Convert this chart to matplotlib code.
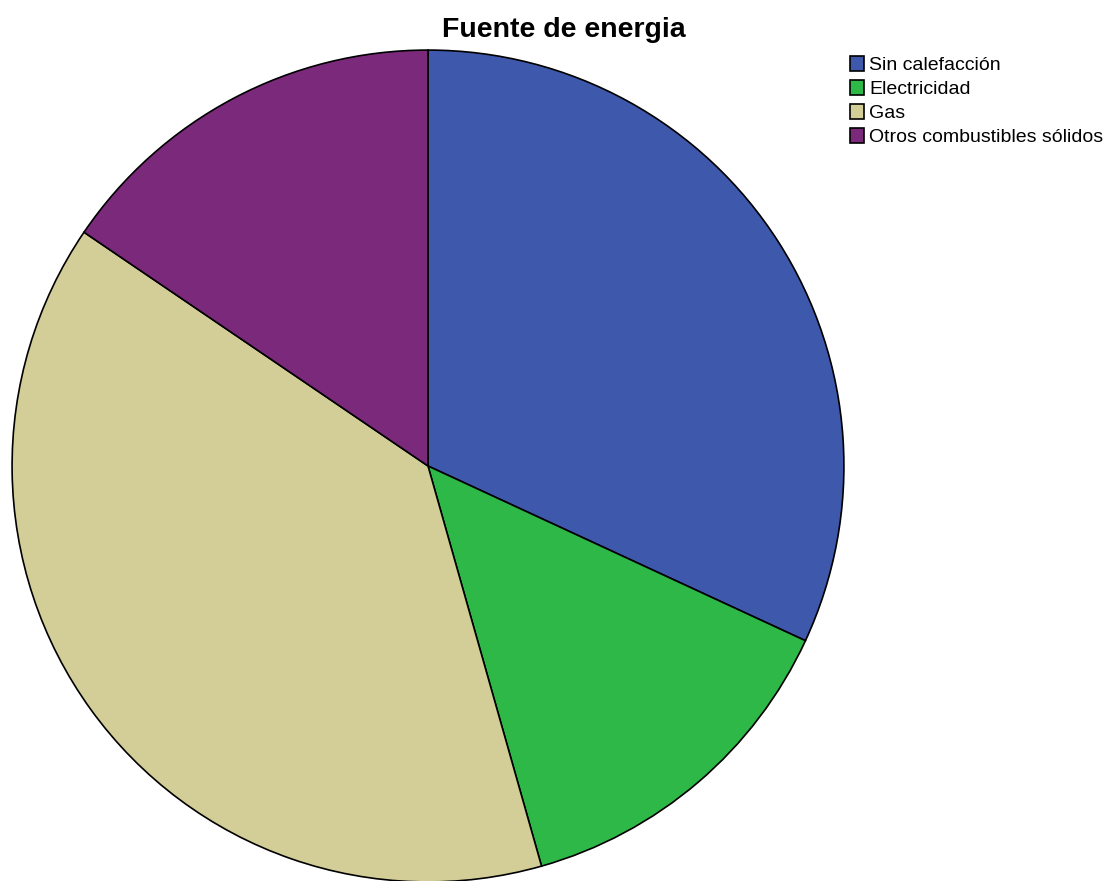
import matplotlib

matplotlib.use("Agg")
import matplotlib.pyplot as plt
from matplotlib.patches import Patch

plt.rcParams["font.family"] = ["Liberation Sans", "DejaVu Sans"]

categorias = ["Sin calefacción", "Electricidad", "Gas", "Otros combustibles sólidos"]
porcentajes = [31.9, 13.7, 38.9, 15.5]
colores = ["#3e58ac", "#2eb848", "#d3ce97", "#7b2a7b"]

W, H = 1112, 881
fig = plt.figure(figsize=(W / 100, H / 100), dpi=100)

# pie centred at (428, 466) px with radius 418 px
cx, cy, r = 428, 466, 418
ax = fig.add_axes([(cx - r) / W, (H - cy - r) / H, 2 * r / W, 2 * r / H])
ax.pie(
    porcentajes,
    colors=colores,
    startangle=90,
    counterclock=False,
    radius=1,
    wedgeprops=dict(edgecolor="black", linewidth=1.2),
)
ax.set_xlim(-1.005, 1.005)
ax.set_ylim(-1.005, 1.005)
ax.set_aspect("equal")
ax.axis("off")

fig.text(564 / W, 1 - 30 / H, "Fuente de energia", ha="center", va="center",
         fontsize=20.5, fontweight="bold")

handles = [Patch(facecolor=c, edgecolor="black", linewidth=1.2) for c in colores]
fig.legend(
    handles,
    categorias,
    loc="upper left",
    bbox_to_anchor=(850 / W, 1 - 56 / H),
    frameon=False,
    fontsize=14,
    handlelength=0.7,
    handleheight=0.8,
    handletextpad=0.3,
    labelspacing=0.3,
    borderpad=0,
    borderaxespad=0,
)

fig.savefig("out.png", dpi=100)
